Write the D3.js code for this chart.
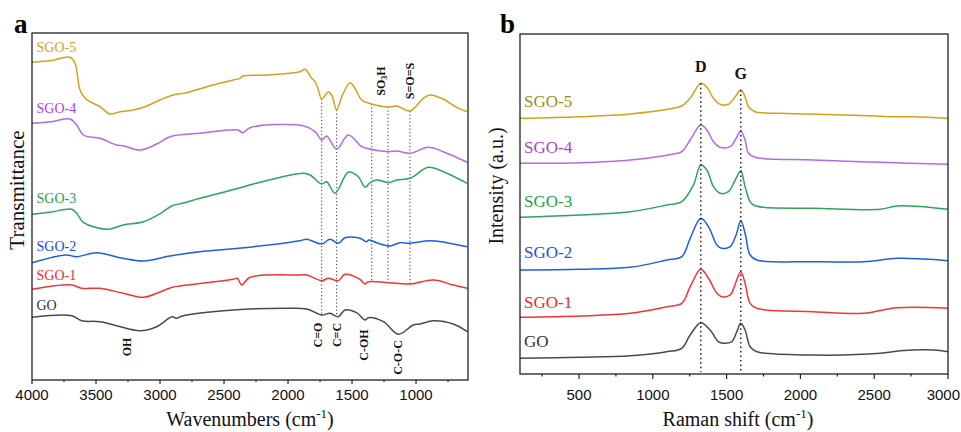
<!DOCTYPE html>
<html>
<head>
<meta charset="utf-8">
<script src="https://cdn.jsdelivr.net/npm/d3@7/dist/d3.min.js"></script>
<style>
  html, body { margin: 0; padding: 0; background: #fff; }
  svg { display: block; }
</style>
</head>
<body>
<svg id="chart" width="961" height="432"></svg>
<script>
// ---------- FTIR spectra (wavenumber cm-1, offset transmittance a.u.) ----------
const ftirGO = [[4000,62.7],[3690,64.3],[3612,59.3],[3469,58.3],[3339,54.3],[3156,49.3],[3026,53.3],[2905,63.3],[2870,61.7],[2827,64],[2427,70],[2010,71.7],[1854,71],[1737,65],[1672,66.7],[1607,63.3],[1555,70],[1464,67.3],[1398,60],[1372,62.3],[1255,58.3],[1138,45.7],[1021,55],[969,56],[865,59.3],[709,56],[600,48.3]];
const ftirSGO1 = [[4000,90.7],[3690,95],[3612,91.7],[3469,91.7],[3287,86.7],[3130,82.7],[3026,86.7],[2905,92.7],[2844,94],[2427,100.7],[2396,101.7],[2362,95],[2297,102.7],[1906,105],[1854,105],[1737,99.3],[1685,101.7],[1607,99.3],[1555,105.7],[1438,100.7],[1398,96],[1372,98.3],[1214,97.3],[1047,96],[865,100],[709,95],[600,91.7]];
const ftirSGO2 = [[4000,117.3],[3734,125],[3651,123.3],[3495,127.3],[3300,122],[3130,119],[2922,124],[2688,128.3],[2388,131.7],[1906,139.3],[1854,140.7],[1737,136],[1672,140.7],[1607,136.7],[1555,142.3],[1438,141.7],[1385,138.3],[1370,140],[1307,137.3],[1203,134],[1125,137.3],[1047,136.7],[891,139.3],[761,137.3],[600,133.3]];
const ftirSGO3 = [[4000,165.7],[3850,168],[3690,170.7],[3651,166.7],[3599,157.7],[3417,150.7],[3287,155],[3130,158.3],[2995,166.7],[2905,174.3],[2827,176.7],[2688,181.7],[2388,191.7],[2271,196],[1880,206.7],[1828,205],[1737,196],[1698,198.3],[1633,186.7],[1529,207.7],[1451,203.3],[1398,192.7],[1359,197.3],[1307,200],[1214,197.3],[1151,200],[1047,201.7],[904,212.7],[787,208.3],[600,196.7]];
const ftirSGO4 = [[4000,256.7],[3850,258.3],[3703,261],[3651,255],[3599,245],[3469,241.7],[3339,235],[3287,234.3],[3156,230],[3026,236],[2922,243.3],[2688,246.7],[2391,250],[2354,247.3],[2297,252.3],[1880,254.3],[1789,248.3],[1737,240],[1698,244],[1620,231],[1529,245],[1424,233.3],[1385,231.7],[1214,228.3],[1151,229],[1047,226.7],[904,232.7],[787,228.3],[600,217.7]];
const ftirSGO5 = [[4000,317.7],[3850,319.5],[3703,322.7],[3664,316.7],[3625,290],[3586,282],[3547,278.3],[3469,273.3],[3391,266],[3313,268.3],[3209,270],[3130,272.7],[3000,280],[2896,285],[2792,287.3],[2635,293.3],[2427,300],[2375,301.7],[2354,304],[2167,305],[1906,308.3],[1867,310.7],[1815,301.7],[1789,298.3],[1763,290],[1737,281],[1685,288],[1659,285],[1620,270],[1580,283.3],[1516,297.3],[1477,291.7],[1424,280],[1346,276],[1219,273],[1151,274],[1047,269],[943,281.7],[891,285],[789,281],[682,272.7],[600,268.3]];

const ftirNames = ["GO", "SGO-1", "SGO-2", "SGO-3", "SGO-4", "SGO-5"];
const ftirTicks = [4000, 3500, 3000, 2500, 2000, 1500, 1000];
const ftirMinorTicks = [3750, 3250, 2750, 2250, 1750, 1250, 750];
// band positions marked with dotted guides: [wavenumber, upper spectrum, lower spectrum]
const ftirBands = [[1737, "SGO-5", "GO"], [1620, "SGO-5", "GO"], [1346, "SGO-5", "SGO-1"], [1219, "SGO-5", "SGO-1"], [1047, "SGO-5", "SGO-1"]];

// ---------- Raman spectra (shift cm-1, offset intensity a.u.) ----------
const ramanGO = [[100,15.7],[507,16.7],[846,18.3],[1095,22.3],[1196,25.7],[1253,39],[1325,51.3],[1388,44],[1444,32.3],[1478,30.7],[1535,32.3],[1569,42.3],[1596,50.7],[1625,44],[1659,27.3],[1705,22.3],[2089,19],[2541,20.7],[2676,23.3],[2902,24],[3000,22.3]];
const ramanSGO1 = [[100,56.7],[507,58],[846,60.7],[1095,67.3],[1196,70.7],[1253,87.3],[1325,104.7],[1377,95.7],[1434,80.7],[1467,77.3],[1524,79],[1564,92.3],[1596,102.3],[1625,90.7],[1659,70.7],[1705,65.7],[2089,62.3],[2427,60.7],[2654,66.3],[3000,65.7]];
const ramanSGO2 = [[100,104],[507,104.7],[846,106.7],[1095,114],[1196,117.3],[1253,135.7],[1325,155.7],[1377,147.3],[1434,129],[1467,125.7],[1524,127.3],[1564,139],[1596,153.3],[1625,140.7],[1659,119],[1705,114],[2089,112.3],[2427,112.3],[2654,115.7],[2834,115],[3000,113.3]];
const ramanSGO3 = [[100,156.7],[507,159],[846,162.3],[1095,169],[1196,172.3],[1275,189],[1325,209],[1366,204],[1411,187.3],[1456,180.7],[1512,182.3],[1558,194],[1596,203.3],[1625,187.3],[1659,172.3],[1682,169],[1749,166.7],[2089,165.7],[2541,164.7],[2654,168],[3000,164.7]];
const ramanSGO4 = [[100,210.7],[507,211.3],[846,214],[1139,220],[1196,222.3],[1253,234],[1325,249],[1366,244],[1411,232.3],[1456,226.7],[1524,227.3],[1558,234],[1596,243],[1625,234],[1648,220.7],[1693,216.7],[2089,214],[2541,211.7],[3000,209.7]];
const ramanSGO5 = [[100,255.7],[507,257.3],[846,260],[1139,265.7],[1196,268],[1253,275.7],[1325,290.7],[1366,286.7],[1411,275.7],[1456,269.7],[1512,269.7],[1558,277.3],[1596,284],[1625,277.3],[1648,267.3],[1693,262.3],[1863,260.7],[2315,259],[2608,257.3],[2767,257.3],[3000,255.7]];

const ramanNames = ["GO", "SGO-1", "SGO-2", "SGO-3", "SGO-4", "SGO-5"];
const ramanTicks = [500, 1000, 1500, 2000, 2500, 3000];
const ramanMinorTicks = [250, 750, 1250, 1750, 2250, 2750];
const ramanBands = [["D", 1325], ["G", 1596]];

// ---------- styling ----------
const lineColors = {"GO": "#4a4a4a", "SGO-1": "#ef3535", "SGO-2": "#1d5fe3", "SGO-3": "#2fa35a", "SGO-4": "#b36ae6", "SGO-5": "#d6a118"};
const labelColorsA = {"GO": "#333333", "SGO-1": "#ee2a2a", "SGO-2": "#2044e6", "SGO-3": "#27a045", "SGO-4": "#b040dc", "SGO-5": "#d4a21c"};
const labelColorsB = {"GO": "#333333", "SGO-1": "#ee2a2a", "SGO-2": "#1f4fe6", "SGO-3": "#27a045", "SGO-4": "#b040d8", "SGO-5": "#9c8c1e"};
const serif = "'Liberation Serif', 'Times New Roman', serif";
const sans = "'Liberation Sans', Arial, sans-serif";

const ftirData = {"GO": ftirGO, "SGO-1": ftirSGO1, "SGO-2": ftirSGO2, "SGO-3": ftirSGO3, "SGO-4": ftirSGO4, "SGO-5": ftirSGO5};
const ramanData = {"GO": ramanGO, "SGO-1": ramanSGO1, "SGO-2": ramanSGO2, "SGO-3": ramanSGO3, "SGO-4": ramanSGO4, "SGO-5": ramanSGO5};

const svg = d3.select("#chart");
svg.append("rect").attr("width", 961).attr("height", 432).attr("fill", "#fff");

// linear interpolation of a spectrum at a given x
function valueAt(series, x) {
  const pts = series.slice().sort((a, b) => a[0] - b[0]);
  for (let i = 0; i < pts.length - 1; i++) {
    if (x >= pts[i][0] && x <= pts[i + 1][0]) {
      const t = (x - pts[i][0]) / (pts[i + 1][0] - pts[i][0]);
      return pts[i][1] + t * (pts[i + 1][1] - pts[i][1]);
    }
  }
  return pts[pts.length - 1][1];
}

function drawFrame(g, x, y, ticks, minor, majorLen, minorLen, labelY, rightLimit) {
  const [x0, x1] = x.range();
  const [y0, y1] = y.range();
  g.append("rect").attr("x", x0).attr("y", y1).attr("width", x1 - x0).attr("height", y0 - y1)
    .attr("fill", "none").attr("stroke", "#222").attr("stroke-width", 1.3);
  g.selectAll(".tmaj").data(ticks).join("line")
    .attr("x1", d => x(d)).attr("x2", d => x(d)).attr("y1", y0).attr("y2", y0 + majorLen)
    .attr("stroke", "#222").attr("stroke-width", 1.2);
  g.selectAll(".tmin").data(minor).join("line")
    .attr("x1", d => x(d)).attr("x2", d => x(d)).attr("y1", y0).attr("y2", y0 + minorLen)
    .attr("stroke", "#222").attr("stroke-width", 1.2);
  g.selectAll(".tlab").data(ticks).join("text")
    .attr("x", d => x(d)).attr("y", labelY).attr("text-anchor", "middle")
    .attr("font-family", sans).attr("font-size", 15).attr("fill", "#111")
    .text(d => d)
    .each(function () {
      // keep the outermost label inside the drawing area
      const b = this.getBBox();
      if (b.x + b.width > rightLimit) {
        d3.select(this).attr("x", +d3.select(this).attr("x") - (b.x + b.width - rightLimit));
      }
    });
}

// ================= panel a: FTIR =================
const xa = d3.scaleLinear().domain([4000, 594]).range([32, 468]);
const ya = d3.scaleLinear().domain([0, 347]).range([380, 33]);
const ga = svg.append("g");
const lineA = d3.line().x(d => xa(d[0])).y(d => ya(d[1])).curve(d3.curveCatmullRom.alpha(0.5));

// dotted band guides
ftirBands.forEach(([wn, top, bottom]) => {
  ga.append("line")
    .attr("x1", xa(wn)).attr("x2", xa(wn))
    .attr("y1", ya(valueAt(ftirData[top], wn)))
    .attr("y2", ya(valueAt(ftirData[bottom], wn)))
    .attr("stroke", "#333").attr("stroke-width", 1).attr("stroke-dasharray", "1.2,2.3");
});

ftirNames.forEach(name => {
  ga.append("path").datum(ftirData[name]).attr("d", lineA)
    .attr("fill", "none").attr("stroke", lineColors[name]).attr("stroke-width", 1.5);
});

drawFrame(ga, xa, ya, ftirTicks, ftirMinorTicks, 4, 2, 400, 960);

const ftirLabelPos = {"SGO-5": 51.7, "SGO-4": 113, "SGO-3": 203.3, "SGO-2": 250.7, "SGO-1": 280, "GO": 310};
ftirNames.forEach(name => {
  ga.append("text").attr("x", 36.5).attr("y", ftirLabelPos[name])
    .attr("font-family", serif).attr("font-size", 14).attr("fill", labelColorsA[name]).text(name);
});

// vertical band assignments
function rotLabel(g, cx, cy, build) {
  const t = g.append("text")
    .attr("transform", `translate(${cx},${cy}) rotate(-90)`)
    .attr("text-anchor", "middle").attr("dominant-baseline", "central")
    .attr("font-family", serif).attr("font-size", 12).attr("font-weight", "bold").attr("fill", "#111");
  build(t);
}
rotLabel(ga, 127, 347, t => t.text("OH"));
rotLabel(ga, 318.3, 335, t => t.text("C=O"));
rotLabel(ga, 336.7, 335, t => t.text("C=C"));
rotLabel(ga, 364, 345, t => t.text("C-OH"));
rotLabel(ga, 398.3, 357.5, t => t.text("C-O-C"));
rotLabel(ga, 381, 81, t => {
  t.append("tspan").text("SO");
  t.append("tspan").attr("font-size", 8).attr("dy", 3).text("3");
  t.append("tspan").attr("dy", -3).text("H");
});
rotLabel(ga, 409.5, 81, t => t.text("S=O=S"));

ga.append("text").attr("x", 250).attr("y", 426).attr("text-anchor", "middle")
  .attr("font-family", serif).attr("font-size", 20).attr("fill", "#111")
  .call(t => {
    t.append("tspan").text("Wavenumbers (cm");
    t.append("tspan").attr("font-size", 13).attr("dy", -8).text("-1");
    t.append("tspan").attr("dy", 8).text(")");
  });
ga.append("text").attr("transform", "translate(24,190) rotate(-90)").attr("text-anchor", "middle")
  .attr("font-family", serif).attr("font-size", 21).attr("fill", "#111").text("Transmittance");
ga.append("text").attr("x", 14).attr("y", 33).attr("font-family", serif)
  .attr("font-size", 27).attr("font-weight", "bold").attr("fill", "#000").text("a");

// ================= panel b: Raman =================
const xb = d3.scaleLinear().domain([100, 3000]).range([520, 948]);
const yb = d3.scaleLinear().domain([0, 340]).range([374, 34]);
const gb = svg.append("g");
const lineB = d3.line().x(d => xb(d[0])).y(d => yb(d[1])).curve(d3.curveCatmullRom.alpha(0.5));

ramanNames.forEach(name => {
  gb.append("path").datum(ramanData[name]).attr("d", lineB)
    .attr("fill", "none").attr("stroke", lineColors[name]).attr("stroke-width", 1.5);
});

ramanBands.forEach(([lab, s]) => {
  gb.append("line")
    .attr("x1", xb(s)).attr("x2", xb(s))
    .attr("y1", yb(valueAt(ramanSGO5, s))).attr("y2", yb(2))
    .attr("stroke", "#111").attr("stroke-width", 1.4).attr("stroke-dasharray", "1.5,3");
});
gb.append("text").attr("x", xb(1325)).attr("y", 72).attr("text-anchor", "middle")
  .attr("font-family", serif).attr("font-size", 16).attr("font-weight", "bold").attr("fill", "#111").text("D");
gb.append("text").attr("x", xb(1596)).attr("y", 78.5).attr("text-anchor", "middle")
  .attr("font-family", serif).attr("font-size", 16).attr("font-weight", "bold").attr("fill", "#111").text("G");

drawFrame(gb, xb, yb, ramanTicks, ramanMinorTicks, 5, 2.5, 400, 960);

const ramanLabelPos = {"SGO-5": 106.7, "SGO-4": 153.3, "SGO-3": 206.7, "SGO-2": 258.3, "SGO-1": 308.3, "GO": 346.7};
ramanNames.forEach(name => {
  gb.append("text").attr("x", 524).attr("y", ramanLabelPos[name])
    .attr("font-family", serif).attr("font-size", 17).attr("fill", labelColorsB[name]).text(name);
});

gb.append("text").attr("x", 738).attr("y", 426).attr("text-anchor", "middle")
  .attr("font-family", serif).attr("font-size", 20).attr("fill", "#111")
  .call(t => {
    t.append("tspan").text("Raman shift (cm");
    t.append("tspan").attr("font-size", 13).attr("dy", -8).text("-1");
    t.append("tspan").attr("dy", 8).text(")");
  });
gb.append("text").attr("transform", "translate(503,186) rotate(-90)").attr("text-anchor", "middle")
  .attr("font-family", serif).attr("font-size", 20).attr("fill", "#111").text("Intensity (a.u.)");
gb.append("text").attr("x", 500).attr("y", 33).attr("font-family", serif)
  .attr("font-size", 27).attr("font-weight", "bold").attr("fill", "#000").text("b");
</script>
</body>
</html>
